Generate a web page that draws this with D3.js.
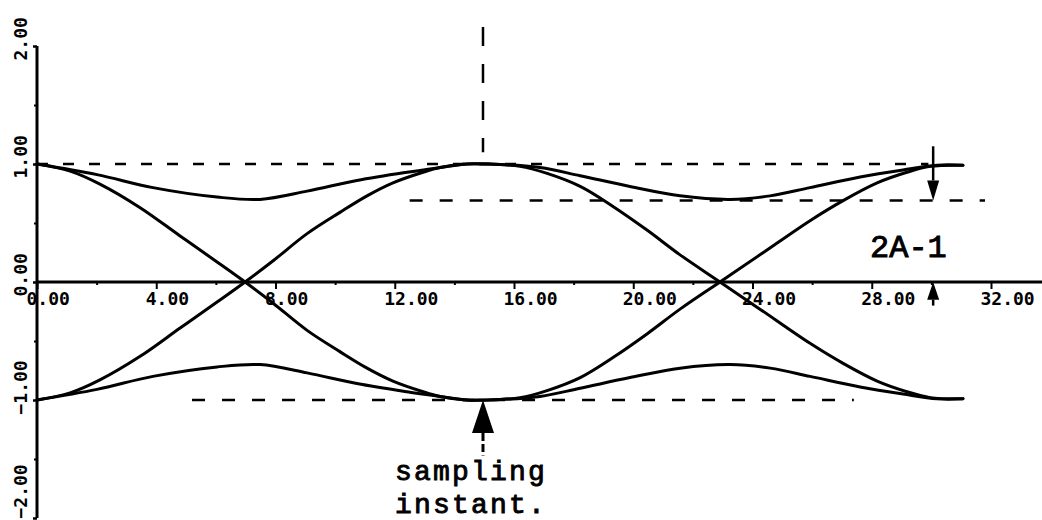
<!DOCTYPE html>
<html>
<head>
<meta charset="utf-8">
<script src="https://cdn.jsdelivr.net/npm/d3@7/dist/d3.min.js"></script>
<style>
  html, body { margin: 0; padding: 0; background: #fff; }
  svg { display: block; }
  .tick text { font-family: "DejaVu Sans Mono", monospace; font-weight: bold; font-size: 18px; fill: #000; }
  .note { font-family: "Liberation Mono", "Courier New", monospace; font-weight: normal; fill: #000; stroke: #000; stroke-width: 0.9px; }
</style>
</head>
<body>
<svg id="chart" width="1042" height="520"></svg>
<script>
// Axis ticks
const xTicks = [0, 4, 8, 12, 16, 20, 24, 28, 32];
const xMinorTicks = [2, 6, 10, 14, 18, 22, 26, 30];
const yTicks = [-2, -1, 0, 1, 2];
const yMinorTicks = [-1.5, -0.5, 0.5, 1.5];

// Eye-diagram traces (time, amplitude)
const upperX = [0, 2.01, 3.89, 6.04, 7.48, 9.06, 10.73, 12.41, 13.52, 14.42, 15.20, 16.87, 18.22, 19.89, 21.57, 23.25, 24.59, 25.93, 27.61, 29.05, 30.19, 31.06];
const upperY = [1.00, 0.91, 0.80, 0.72, 0.70, 0.77, 0.86, 0.93, 0.97, 1.00, 1.00, 0.97, 0.90, 0.81, 0.73, 0.70, 0.73, 0.80, 0.89, 0.95, 0.99, 0.99];

const lowerX = [0, 2.01, 3.89, 6.04, 7.48, 9.06, 10.73, 12.41, 13.52, 14.42, 15.20, 16.87, 18.22, 19.89, 21.57, 23.25, 24.59, 25.93, 27.61, 29.05, 30.19, 31.06];
const lowerY = [-1.00, -0.91, -0.80, -0.72, -0.70, -0.77, -0.86, -0.93, -0.97, -1.00, -1.00, -0.97, -0.90, -0.81, -0.73, -0.70, -0.73, -0.80, -0.89, -0.95, -0.99, -0.99];

const fallRiseX = [0, 1.11, 2.11, 3.46, 4.80, 6.04, 6.98, 7.92, 9.06, 10.16, 11.07, 11.94, 12.95, 13.52, 14.42, 14.96, 16.2, 17.11, 18.22, 19.32, 20.46, 21.57, 22.91, 24.25, 25.93, 27.04, 28.18, 29.18, 29.96, 31.06];
const fallRiseY = [1.00, 0.94, 0.83, 0.63, 0.39, 0.17, 0.00, -0.18, -0.41, -0.59, -0.73, -0.84, -0.93, -0.97, -1.00, -1.00, -0.98, -0.92, -0.81, -0.64, -0.44, -0.23, 0.00, 0.23, 0.52, 0.69, 0.84, 0.93, 0.98, 0.99];

const riseFallX = [0, 1.11, 2.11, 3.46, 4.80, 6.04, 6.98, 7.92, 9.06, 10.16, 11.07, 11.94, 12.95, 13.52, 14.42, 14.96, 16.2, 17.11, 18.22, 19.32, 20.46, 21.57, 22.91, 24.25, 25.93, 27.04, 28.18, 29.18, 29.96, 31.06];
const riseFallY = [-1.00, -0.94, -0.83, -0.63, -0.39, -0.17, 0.00, 0.18, 0.41, 0.59, 0.73, 0.84, 0.93, 0.97, 1.00, 1.00, 0.98, 0.92, 0.81, 0.64, 0.44, 0.23, 0.00, -0.23, -0.52, -0.69, -0.84, -0.93, -0.98, -0.99];

// Reference levels and markers
const samplingInstant = 14.96;
const eyeLevel = 0.69;       // inner eye opening, 2A-1
const markerTime = 30.06;    // where the 2A-1 opening is marked

const svg = d3.select("#chart");
const x = d3.scaleLinear().domain([0, 32]).range([37, 991]);
const y = d3.scaleLinear().domain([-2, 2]).range([518, 46]);

// Dashed guide lines
const guides = [
  { x1: 0, x2: 29.9, y1: 1.0, y2: 1.0, dash: "11,15" },
  { x1: 12.5, x2: 31.8, y1: eyeLevel, y2: eyeLevel, dash: "13,17" },
  { x1: 5.2, x2: 27.4, y1: -1.0, y2: -1.0, dash: "13,17" },
  { x1: samplingInstant, x2: samplingInstant, y1: 2.16, y2: 1.10, dash: "19,18" }
];
svg.append("g").selectAll("line").data(guides).join("line")
  .attr("x1", d => x(d.x1)).attr("x2", d => x(d.x2))
  .attr("y1", d => y(d.y1)).attr("y2", d => y(d.y2))
  .attr("stroke", "#000").attr("stroke-width", 2.5)
  .attr("stroke-dasharray", d => d.dash);

// X axis
const xAxis = svg.append("g").attr("transform", `translate(0,${y(0)})`)
  .call(d3.axisBottom(x).tickValues(xTicks).tickSize(7).tickFormat(d3.format(".2f")));
xAxis.select(".domain").remove();
xAxis.selectAll(".tick line").attr("stroke", "#000").attr("stroke-width", 2);
xAxis.selectAll(".tick text").attr("text-anchor", "start").attr("x", -11).attr("y", 23).attr("dy", null);
svg.append("g").attr("transform", `translate(0,${y(0)})`)
  .call(d3.axisBottom(x).tickValues(xMinorTicks).tickSize(3).tickFormat(""))
  .call(g => g.select(".domain").remove())
  .selectAll("line").attr("stroke", "#000").attr("stroke-width", 2);
svg.append("line")
  .attr("x1", x(0)).attr("x2", 1042).attr("y1", y(0)).attr("y2", y(0))
  .attr("stroke", "#000").attr("stroke-width", 3);

// Y axis (labels read upward, starting just below each tick)
const yAxis = svg.append("g").attr("transform", `translate(${x(0)},0)`)
  .call(d3.axisLeft(y).tickValues(yTicks).tickSize(4).tickFormat(d3.format(".2f")));
yAxis.select(".domain").remove();
yAxis.selectAll(".tick line").attr("stroke", "#000").attr("stroke-width", 2.5);
yAxis.selectAll(".tick text")
  .attr("x", 0).attr("y", 0).attr("dy", null)
  .attr("text-anchor", "start")
  .attr("transform", d => `translate(-10,${d === -2 ? 0 : 14}) rotate(-90)`);
svg.append("g").attr("transform", `translate(${x(0)},0)`)
  .call(d3.axisLeft(y).tickValues(yMinorTicks).tickSize(3).tickFormat(""))
  .call(g => g.select(".domain").remove())
  .selectAll("line").attr("stroke", "#000").attr("stroke-width", 2);
svg.append("line")
  .attr("x1", x(0)).attr("x2", x(0)).attr("y1", y(2)).attr("y2", y(-2))
  .attr("stroke", "#000").attr("stroke-width", 3);

// Traces
const traces = [
  [upperX, upperY], [lowerX, lowerY], [fallRiseX, fallRiseY], [riseFallX, riseFallY]
].map(([xs, ys]) => xs.map((t, i) => [t, ys[i]]));
const line = d3.line().x(d => x(d[0])).y(d => y(d[1])).curve(d3.curveCatmullRom.alpha(0.5));
svg.append("g").selectAll("path").data(traces).join("path")
  .attr("d", line)
  .attr("fill", "none").attr("stroke", "#000").attr("stroke-width", 3)
  .attr("stroke-linejoin", "round").attr("stroke-linecap", "round");

// Sampling-instant arrow
const sx = x(samplingInstant);
svg.append("path")
  .attr("d", `M${sx},${y(-1)} L${sx - 11},${y(-1.28)} L${sx + 11},${y(-1.28)} Z`)
  .attr("fill", "#000");
svg.append("line")
  .attr("x1", sx).attr("x2", sx).attr("y1", y(-1.28)).attr("y2", y(-1.47))
  .attr("stroke", "#000").attr("stroke-width", 3).attr("stroke-dasharray", "8,3");

// 2A-1 opening markers
const mx = x(markerTime);
svg.append("line")
  .attr("x1", mx).attr("x2", mx).attr("y1", y(1.15)).attr("y2", y(0.86))
  .attr("stroke", "#000").attr("stroke-width", 2.5);
svg.append("path")
  .attr("d", `M${mx},${y(eyeLevel)} L${mx - 6},${y(0.86)} L${mx + 6},${y(0.86)} Z`)
  .attr("fill", "#000");
svg.append("path")
  .attr("d", `M${mx},${y(0)} L${mx - 6},${y(-0.15)} L${mx + 6},${y(-0.15)} Z`)
  .attr("fill", "#000");
svg.append("line")
  .attr("x1", mx).attr("x2", mx).attr("y1", y(-0.15)).attr("y2", y(-0.2))
  .attr("stroke", "#000").attr("stroke-width", 2.5);

// Labels
svg.append("text").attr("class", "note").attr("x", 870).attr("y", 257)
  .attr("font-size", 32).text("2A-1");
svg.append("text").attr("class", "note").attr("x", 395).attr("y", 480)
  .attr("font-size", 28).attr("letter-spacing", 2.2).text("sampling");
svg.append("text").attr("class", "note").attr("x", 395).attr("y", 513)
  .attr("font-size", 28).attr("letter-spacing", 2.2).text("instant.");
</script>
</body>
</html>
